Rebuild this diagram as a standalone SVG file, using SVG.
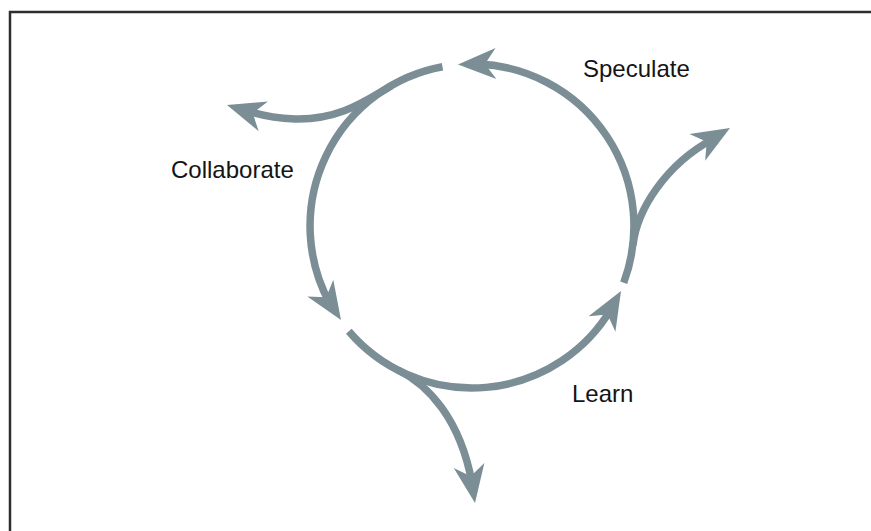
<svg xmlns="http://www.w3.org/2000/svg" width="871" height="531" viewBox="0 0 871 531">
  <style>
    .flow { fill: none; stroke: #7b8e96; stroke-width: 7.5; stroke-linecap: butt; }
    .head { fill: #7b8e96; }
    .label { font-family: "Liberation Sans", Arial, sans-serif; font-size: 24px; fill: #141414; }
  </style>
  <defs>
    <!-- arrowhead pointing along +x, tip at the origin -->
    <path id="arrowhead" d="M0,0 L-38,-15.5 L-27,0 L-38,15.5 Z"/>
  </defs>

  <rect x="0" y="0" width="871" height="531" fill="#ffffff"/>
  <!-- frame -->
  <rect x="10" y="12" width="900" height="600" fill="#ffffff" stroke="#2e2e2e" stroke-width="2.5"/>

  <g id="connectors">
    <!-- Speculate arc: right side up over the top -->
    <path class="flow" d="M623.7,282.7 A162,162 0 0 0 477.7,64.1"/>
    <!-- Collaborate arc: top down the left side -->
    <path class="flow" d="M442.5,66.7 A162,162 0 0 0 329.7,303.3"/>
    <!-- Learn arc: lower left round the bottom -->
    <path class="flow" d="M348.8,331.2 A162,162 0 0 0 611.6,308.2"/>

    <!-- outgoing branches -->
    <path class="flow" d="M391,86 C365,101 340,120 295,119 C275,118 260,115 248,111"/>
    <path class="flow" d="M633,245 C637,210 665,165 713,139"/>
    <path class="flow" d="M398,370 C428,385 460,418 472,483"/>

    <!-- arrowheads -->
    <use href="#arrowhead" class="head" transform="translate(458,64.6) rotate(178.5)"/>
    <use href="#arrowhead" class="head" transform="translate(341,320) rotate(57)"/>
    <use href="#arrowhead" class="head" transform="translate(621,291) rotate(-60)"/>
    <use href="#arrowhead" class="head" transform="translate(227,105) rotate(-162.6)"/>
    <use href="#arrowhead" class="head" transform="translate(730,128) rotate(-30.5)"/>
    <use href="#arrowhead" class="head" transform="translate(475,503) rotate(81)"/>
  </g>

  <g id="speculate">
    <text class="label" x="583" y="77">Speculate</text>
  </g>
  <g id="collaborate">
    <text class="label" x="171" y="178">Collaborate</text>
  </g>
  <g id="learn">
    <text class="label" x="572" y="402">Learn</text>
  </g>
</svg>
